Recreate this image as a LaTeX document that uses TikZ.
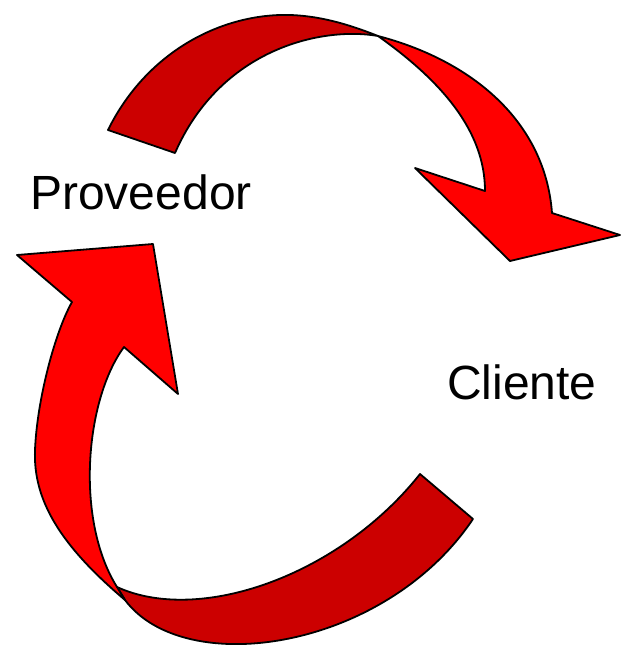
\documentclass[tikz,border=0pt]{standalone}
\usepackage{fontspec}
\setmainfont{Liberation Sans}
\definecolor{bandred}{HTML}{FF0000}
\definecolor{banddark}{HTML}{CC0000}
\begin{document}
\begin{tikzpicture}[x=1pt,y=-1pt,
  band/.style={draw=black,line width=1.8pt,line join=round},
  label/.style={font=\fontsize{48}{56}\selectfont,inner sep=0pt,anchor=base}]
\useasboundingbox (0,0) rectangle (625,656);

% upper arrow: dark tail band up to the twist
\filldraw[band,fill=banddark]
  (108,130) .. controls (145,55) and (215,17) .. (280,15)
  .. controls (315,14) and (348,24) .. (378,36)
  .. controls (320,26) and (220,50) .. (175,153)
  -- cycle;
% upper arrow: bright band and head after the twist
\filldraw[band,fill=bandred]
  (378,36) .. controls (470,60) and (545,120) .. (552,213)
  -- (620,235) -- (510,261) -- (415,168) -- (485,191)
  .. controls (485,130) and (440,80) .. (378,36)
  -- cycle;

% lower arrow: dark tail band up to the twist
\filldraw[band,fill=banddark]
  (420,474) .. controls (340,575) and (200,625) .. (117,587)
  -- (125,600)
  .. controls (185,680) and (385,650) .. (473,519)
  -- cycle;
% lower arrow: bright band and head after the twist
\filldraw[band,fill=bandred]
  (125,600) .. controls (60,545) and (33,500) .. (35,450)
  .. controls (37,400) and (55,332) .. (72,302)
  -- (17,255) -- (153,244) -- (178,394) -- (124,347)
  .. controls (85,400) and (75,520) .. (117,587)
  -- cycle;

\node[label] (proveedor) at (141,209) {Proveedor};
\node[label] (cliente) at (522,399) {Cliente};
\end{tikzpicture}
\end{document}
